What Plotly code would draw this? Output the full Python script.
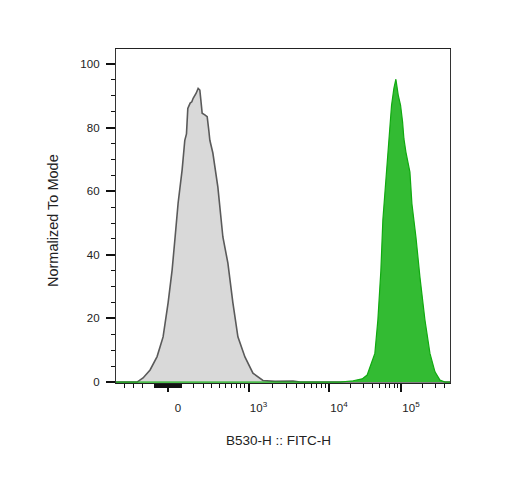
import numpy as np
import plotly.graph_objects as go

# ---------------- data (display channel 0..1000, % of mode) ----------------
unstained_ch = [0, 63, 81, 102, 123, 141, 156, 168, 177, 186, 198, 206, 211, 215, 222, 227,
                231, 237, 240, 246, 251, 254, 258, 266, 273, 278, 281, 290, 305, 320, 335,
                350, 365, 386, 410, 440, 476, 530, 551, 1000]
unstained_y = [0, 0, 1.3, 3.8, 8.0, 14.2, 24.9, 35.2, 45.6, 56.3, 66.7, 76.0, 78.0, 86.0, 87.7,
               88.1, 89.2, 90.2, 90.8, 92.3, 91.8, 88.7, 84.5, 84.0, 83.4, 79.0, 76.0, 72.0,
               61.3, 45.6, 37.4, 24.9, 14.2, 7.9, 2.8, 0.5, 0.2, 0.3, 0, 0]

stained_ch = [0, 671, 710, 737, 752, 760, 770, 775, 784, 793, 799, 810, 813, 818, 825, 832,
              838, 845, 852, 858, 862, 868, 875, 880, 886, 898, 910, 925, 940, 955, 970, 985, 1000]
stained_y = [0, 0, 0.4, 1.0, 2.2, 4.4, 7.5, 9.0, 19.5, 35.0, 51.0, 66.0, 70.2, 78.6, 87.0, 92.3,
             95.2, 90.2, 87.0, 81.8, 76.5, 72.3, 69.2, 66.0, 56.0, 45.6, 33.0, 19.5, 9.0, 3.2,
             0.6, 0, 0]

major_vals = [0, 1e3, 1e4, 1e5]
major_text = ["0", "10<sup>3</sup>", "10<sup>4</sup>", "10<sup>5</sup>"]
minor_vals = ([-300, -200, -100] + list(range(-90, 0, 5)) + list(range(5, 95, 5)) +
              list(range(100, 1000, 100)) + list(range(2000, 10000, 1000)) +
              list(range(20000, 100000, 10000)) + [2e5, 3e5, 4e5])

y_major = [0, 20, 40, 60, 80, 100]
y_minor = [v for v in range(5, 105, 5) if v % 20]

# ---------------- biexponential-like display scale ----------------
ZERO_CH = 155.7
_lin_lim = 90.0
_knot_log = [np.log10(90), 2, np.log10(200), np.log10(300), np.log10(500), 3, 4, 5, np.log10(4e5)]
_knot_off = [40.4, 74.9, 104.8, 131.7, 170.7, 241.0, 482.0, 697.6, 827.8]


def biex(v):
    a = abs(v)
    if a <= _lin_lim:
        off = a * _knot_off[0] / _lin_lim
    else:
        off = float(np.interp(np.log10(a), _knot_log, _knot_off))
    return ZERO_CH + (off if v >= 0 else -off)


font = "Liberation Sans, Arial, sans-serif"

fig = go.Figure()
fig.add_trace(go.Scatter(x=unstained_ch, y=unstained_y, mode="lines", fill="tozeroy",
                         fillcolor="#d9d9d9", line=dict(color="#5a5a5a", width=1.6),
                         hoverinfo="skip", showlegend=False))
fig.add_trace(go.Scatter(x=stained_ch, y=stained_y, mode="lines", fill="tozeroy",
                         fillcolor="#33bb33", line=dict(color="#11aa11", width=1.2),
                         hoverinfo="skip", showlegend=False))

fig.update_layout(
    width=529, height=495,
    margin=dict(l=108, r=87, t=41, b=120),
    paper_bgcolor="white", plot_bgcolor="white",
    font=dict(family=font, size=11, color="#222222"),
    xaxis=dict(range=[0, 1000], showgrid=False, zeroline=False,
               showline=True, linecolor="#222222", linewidth=1, mirror=True,
               tickmode="array", tickvals=[biex(v) for v in major_vals], ticktext=major_text,
               ticks="outside", ticklen=8, tickwidth=1.5, tickcolor="#111111",
               ticklabelshift=10, ticklabelstandoff=6,
               tickfont=dict(family=font, size=11.5, color="#222222"),
               minor=dict(tickmode="array", tickvals=[biex(v) for v in minor_vals],
                          ticks="outside", ticklen=4, tickwidth=1, tickcolor="#111111",
                          showgrid=False)),
    yaxis=dict(range=[-0.3, 104.7], showgrid=False, zeroline=False,
               showline=True, linecolor="#333333", linewidth=1.3, mirror=True,
               tickmode="array", tickvals=y_major, ticktext=[str(v) for v in y_major],
               ticks="outside", ticklen=9, tickwidth=2, tickcolor="#111111",
               ticklabelstandoff=4,
               tickfont=dict(family=font, size=11.5, color="#222222"),
               minor=dict(tickmode="array", tickvals=y_minor, ticks="outside", ticklen=4,
                          tickwidth=1, tickcolor="#111111", showgrid=False)),
    annotations=[
        dict(text="B530-H :: FITC-H", xref="paper", yref="paper", x=0.4865, y=-0.1707,
             xanchor="center", yanchor="middle", showarrow=False,
             font=dict(family=font, size=13.5, color="#222222")),
        dict(text="Normalized To Mode", xref="paper", yref="paper", x=-0.1886, y=0.485,
             xanchor="center", yanchor="middle", showarrow=False, textangle=-90,
             font=dict(family=font, size=14.5, color="#222222")),
    ],
)

fig.write_html("out.html")
